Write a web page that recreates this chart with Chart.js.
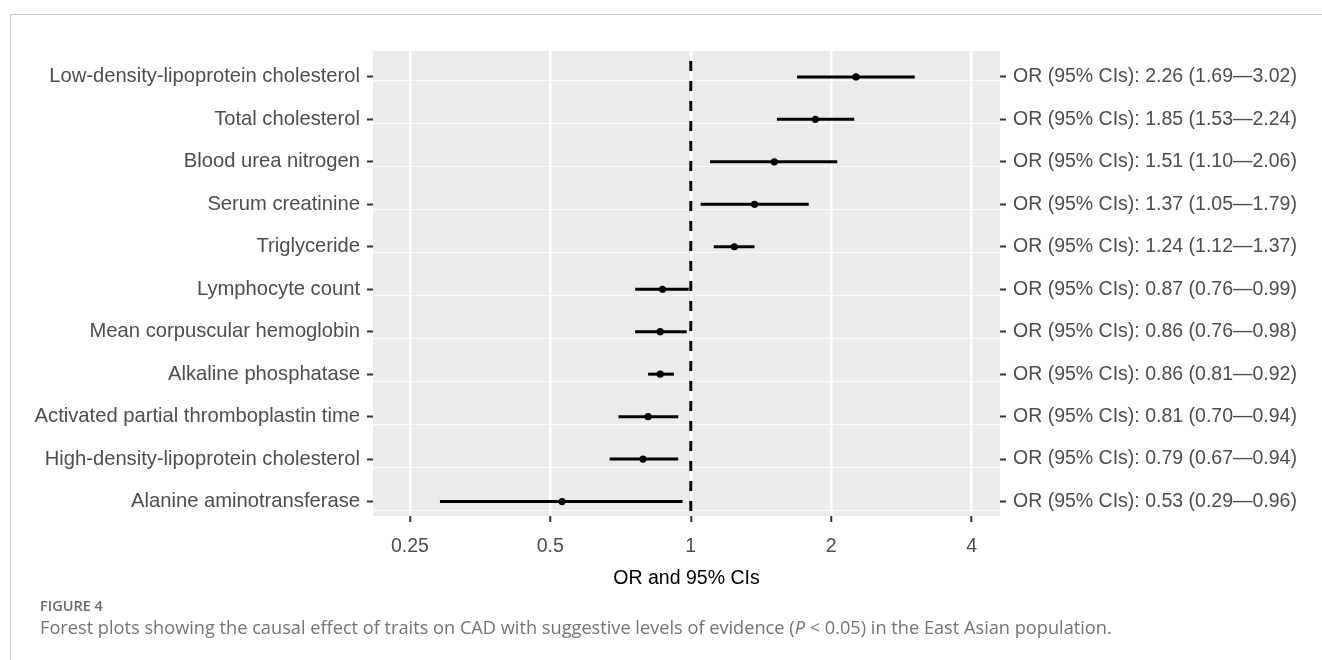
<!DOCTYPE html>
<html>
<head>
<meta charset="utf-8">
<script src="https://cdn.jsdelivr.net/npm/chart.js@4.4.0/dist/chart.umd.min.js"></script>
<style>
  html, body { margin: 0; padding: 0; background: #fff; }
  #wrap { position: relative; width: 1322px; height: 660px; overflow: hidden; }
  #frame { position: absolute; left: 10px; top: 14px; width: 1400px; height: 700px; border-left: 1px solid #cccccc; border-top: 1px solid #cccccc; }
  #chart { position: absolute; left: 0; top: 0; }
  .fig-label { position: absolute; left: 40px; top: 599px; font-family: "Open Sans", sans-serif; font-weight: 600; font-size: 14.5px; line-height: 14px; color: #6b6b6b; }
  .fig-text { position: absolute; left: 40px; top: 618px; font-family: "Open Sans", sans-serif; font-size: 18.2px; line-height: 18px; color: #747474; white-space: nowrap; }
</style>
</head>
<body>
<div id="wrap">
  <div id="frame"></div>
  <canvas id="chart" width="1322" height="660" style="width:1322px;height:660px"></canvas>
  <div class="fig-label">FIGURE 4</div>
  <div class="fig-text">Forest plots showing the causal effect of traits on CAD with suggestive levels of evidence (<i>P</i> &lt; 0.05) in the East Asian population.</div>
</div>
<script>
const traits = [
  'Low-density-lipoprotein cholesterol',
  'Total cholesterol',
  'Blood urea nitrogen',
  'Serum creatinine',
  'Triglyceride',
  'Lymphocyte count',
  'Mean corpuscular hemoglobin',
  'Alkaline phosphatase',
  'Activated partial thromboplastin time',
  'High-density-lipoprotein cholesterol',
  'Alanine aminotransferase'
];
const orValues = [2.26, 1.85, 1.51, 1.37, 1.24, 0.87, 0.86, 0.86, 0.81, 0.79, 0.53];
const ciLow    = [1.69, 1.53, 1.10, 1.05, 1.12, 0.76, 0.76, 0.81, 0.70, 0.67, 0.29];
const ciHigh   = [3.02, 2.24, 2.06, 1.79, 1.37, 0.99, 0.98, 0.92, 0.94, 0.94, 0.96];
const xTicks   = [0.25, 0.5, 1, 2, 4];
const refLine  = 1;

const rows = traits.map((t, i) => i);
const orLabels = rows.map(i =>
  `OR (95% CIs): ${orValues[i].toFixed(2)} (${ciLow[i].toFixed(2)}\u2014${ciHigh[i].toFixed(2)})`);

const yMin = -0.61, yMax = 10.34;
const family = '"Liberation Sans", Arial, sans-serif';
const textColor = '#4d4d4d';

const panelBg = {
  id: 'panelBg',
  beforeDraw(chart) {
    const { ctx, chartArea: a } = chart;
    ctx.save();
    ctx.fillStyle = '#ebebeb';
    ctx.fillRect(a.left, a.top, a.right - a.left, a.bottom - a.top);
    ctx.restore();
  }
};

const ciDatasets = rows.map(i => ({
  type: 'line',
  data: [{ x: ciLow[i], y: i }, { x: ciHigh[i], y: i }],
  borderColor: '#000',
  borderWidth: 3,
  pointRadius: 0,
  xAxisID: 'x', yAxisID: 'y'
}));

new Chart(document.getElementById('chart'), {
  type: 'scatter',
  data: {
    datasets: [
      ...ciDatasets,
      {
        type: 'line',
        data: [{ x: refLine, y: yMin }, { x: refLine, y: yMax }],
        borderColor: '#000', borderWidth: 3, borderDash: [10, 10], borderDashOffset: 10,
        pointRadius: 0, xAxisID: 'x', yAxisID: 'y'
      },
      {
        type: 'scatter',
        data: rows.map(i => ({ x: orValues[i], y: i })),
        backgroundColor: '#000', borderWidth: 0, pointRadius: 3.6,
        xAxisID: 'x', yAxisID: 'y'
      }
    ]
  },
  options: {
    responsive: false,
    animation: false,
    devicePixelRatio: 1,
    layout: { padding: { top: 51, left: 0, right: 0, bottom: 0 } },
    plugins: { legend: { display: false }, tooltip: { enabled: false } },
    scales: {
      x: {
        type: 'logarithmic', position: 'bottom', bounds: 'data',
        min: 0.2084, max: 4.6,
        afterFit: s => { s.height = 144; },
        afterBuildTicks: s => { s.ticks = xTicks.map(v => ({ value: v })); },
        ticks: { callback: v => String(v), color: textColor, font: { family, size: 19.5 }, padding: 13, autoSkip: false, maxRotation: 0 },
        grid: { color: '#ffffff', lineWidth: 2.5, tickColor: '#333333', tickLength: 6, tickWidth: 2 },
        border: { display: false },
        title: { display: true, text: 'OR and 95% CIs', color: '#000', font: { family, size: 19.5 }, padding: { top: 0, bottom: 70 } }
      },
      yg: {
        type: 'linear', position: 'left', reverse: true, bounds: 'data',
        min: -0.68, max: 10.123,
        afterFit: s => { s.width = 0; },
        afterBuildTicks: s => { s.ticks = rows.map(v => ({ value: v })); },
        ticks: { display: false },
        grid: { color: 'rgba(255,255,255,0.85)', lineWidth: 1, drawTicks: false },
        border: { display: false }
      },
      y: {
        type: 'linear', position: 'left', reverse: true, bounds: 'data',
        min: yMin, max: yMax,
        afterFit: s => { s.width = 373; },
        afterBuildTicks: s => { s.ticks = rows.map(v => ({ value: v })); },
        ticks: { callback: v => traits[v], color: textColor, font: { family, size: 20.2 }, padding: 7, autoSkip: false },
        grid: { drawOnChartArea: false, tickColor: '#333333', tickLength: 6, tickWidth: 2 },
        border: { display: false }
      },
      y2: {
        type: 'linear', position: 'right', reverse: true, bounds: 'data',
        min: yMin, max: yMax,
        afterFit: s => { s.width = 322; },
        afterBuildTicks: s => { s.ticks = rows.map(v => ({ value: v })); },
        ticks: { callback: v => orLabels[v], color: textColor, font: { family, size: 19.5 }, padding: 7, autoSkip: false },
        grid: { drawOnChartArea: false, tickColor: '#333333', tickLength: 6, tickWidth: 2 },
        border: { display: false }
      }
    }
  },
  plugins: [panelBg]
});
</script>
</body>
</html>
